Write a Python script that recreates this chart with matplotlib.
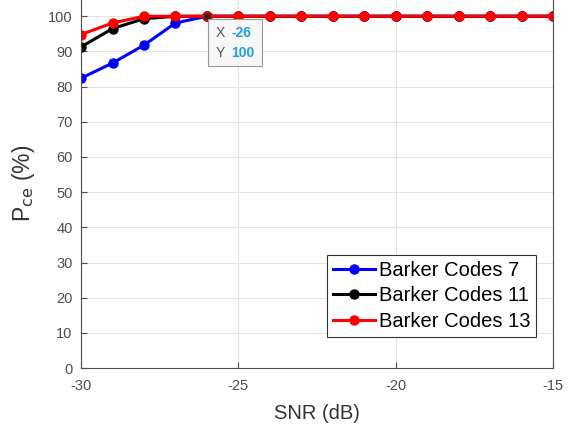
import numpy as np
import matplotlib.pyplot as plt
from matplotlib.offsetbox import TextArea, HPacker, VPacker, AnnotationBbox

plt.rcParams['font.family'] = ['Liberation Sans', 'DejaVu Sans']
plt.rcParams['axes.unicode_minus'] = False

# SNR sweep and detection probability for each Barker code length
snr = [-30, -29, -28, -27, -26, -25, -24, -23, -22, -21, -20, -19, -18, -17, -16, -15]
pce_b7 = [82.4, 86.7, 91.8, 98.1, 100, 100, 100, 100, 100, 100, 100, 100, 100, 100, 100, 100]
pce_b11 = [91.3, 96.5, 99.3, 100, 100, 100, 100, 100, 100, 100, 100, 100, 100, 100, 100, 100]
pce_b13 = [94.8, 98.1, 100, 100, 100, 100, 100, 100, 100, 100, 100, 100, 100, 100, 100, 100]
labels = ['Barker Codes 7', 'Barker Codes 11', 'Barker Codes 13']
colors = ['#0000ff', '#000000', '#ff0000']

tip_x, tip_y = -26, 100

fig = plt.figure(figsize=(5.75, 4.3), dpi=100)
ax = fig.add_axes([0.141, 0.144, 0.821, 0.90])

for y, lab, c in zip([pce_b7, pce_b11, pce_b13], labels, colors):
    ax.plot(snr, y, '-o', color=c, lw=2.2, ms=6.5, label=lab)

ax.set_xlim(-30, -15)
ax.set_ylim(0, 110)
ax.set_xticks([-30, -25, -20, -15])
ax.set_yticks(np.arange(0, 101, 10))
ax.grid(True, color='#e3e3e3', lw=0.8)
ax.tick_params(direction='in', labelsize=10.5, colors='#4d4d4d', length=4)
ax.tick_params(axis='x', pad=8)
ax.tick_params(axis='y', pad=6)
for s in ax.spines.values():
    s.set_color('#4d4d4d')

ax.set_xlabel('SNR (dB)', fontsize=14.5, color='#333333', labelpad=8)
ax.set_ylabel(r'P$_{\rm ce}$ (%)', fontsize=16.5, color='#333333')
ax.yaxis.set_label_coords(-0.093, 0.478)

# data tip at (-26, 100)
ax.plot(tip_x, tip_y, 'o', color='#222222', ms=4, zorder=5)
key_style = dict(color='#555555', fontsize=10)
val_style = dict(color='#1e9fdc', fontsize=10, fontweight='bold')
rows = [HPacker(children=[TextArea('X', textprops=key_style),
                          TextArea(str(tip_x), textprops=val_style)], pad=0, sep=5),
        HPacker(children=[TextArea('Y', textprops=key_style),
                          TextArea(str(tip_y), textprops=val_style)], pad=0, sep=5)]
tip_box = VPacker(children=rows, pad=0, sep=4, align='left')
ab = AnnotationBbox(tip_box, (tip_x, tip_y), xybox=(6, -7), xycoords='data',
                    boxcoords='offset points', box_alignment=(0, 1), pad=0.5,
                    bboxprops=dict(fc='#f7f7f7', ec='#9a9a9a', lw=0.8), zorder=6)
ax.add_artist(ab)

leg = ax.legend(loc='lower right', bbox_to_anchor=(0.964, 0.08), fontsize=14.5,
                fancybox=False, edgecolor='#333333', framealpha=1,
                handlelength=2.05, handletextpad=0.2, borderpad=0.3, labelspacing=0.33,
                borderaxespad=0)
leg.get_frame().set_linewidth(0.8)

fig.savefig('out.png', dpi=100)
